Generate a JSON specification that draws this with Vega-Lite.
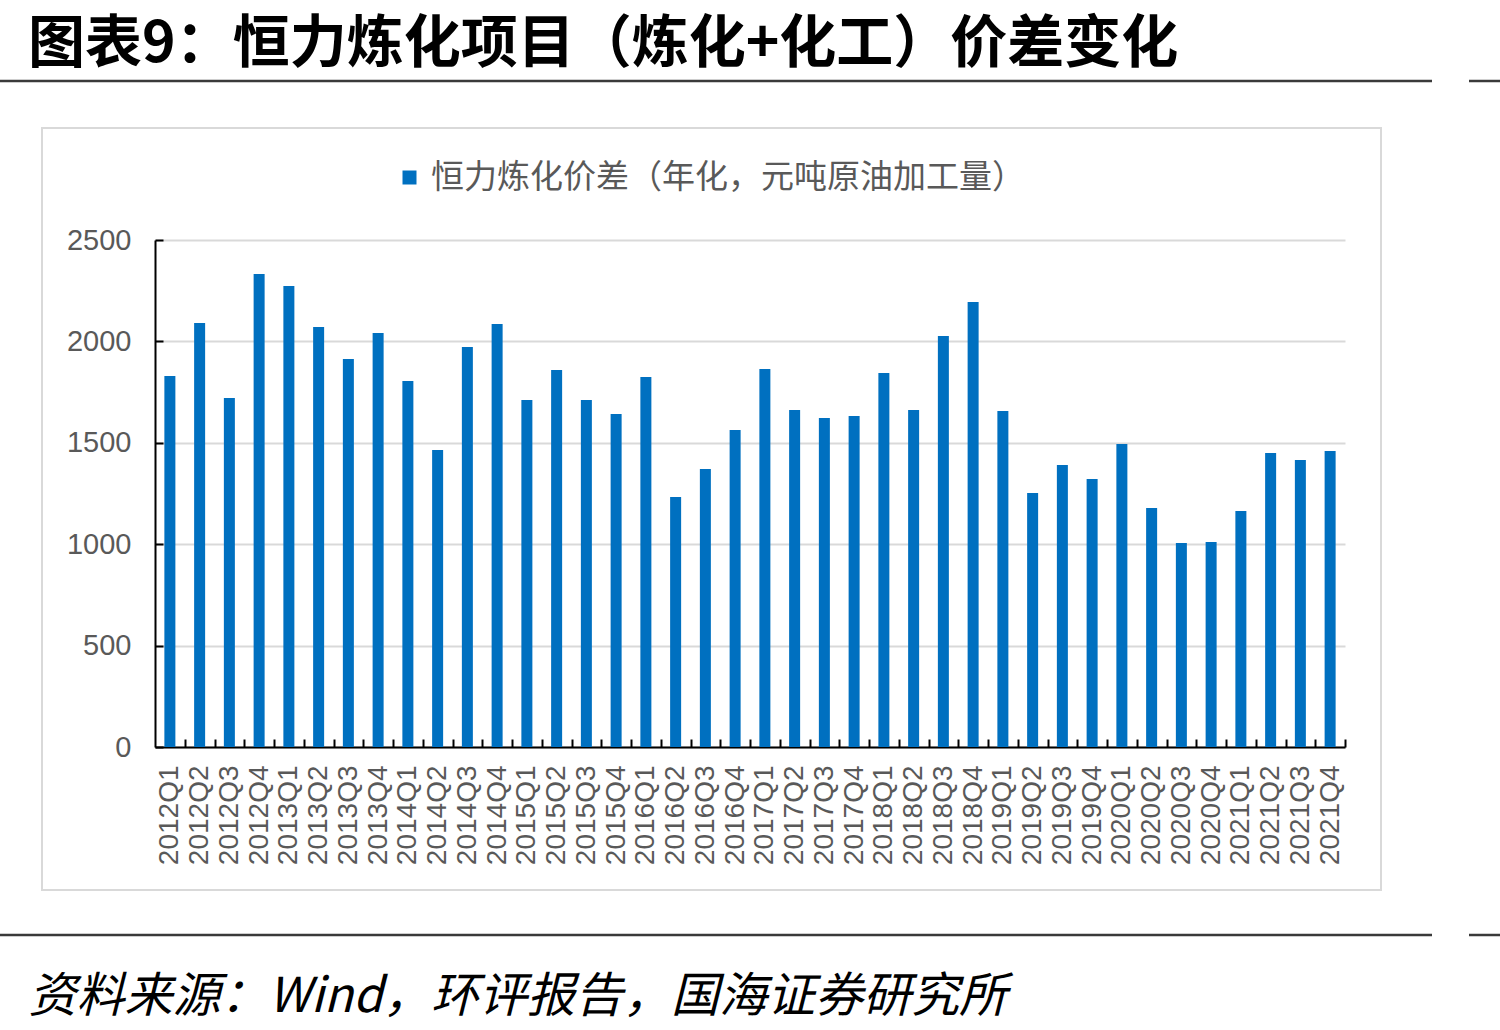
{
  "$schema": "https://vega.github.io/schema/vega-lite/v6.json",
  "width": 1190,
  "height": 507,
  "autosize": {"type": "none"},
  "padding": {"left": 155, "top": 240, "right": 155, "bottom": 283},
  "background": "white",
  "config": {"view": {"stroke": null}},
  "title": {
    "text": "图表9：恒力炼化项目（炼化+化工）价差变化",
    "font": "Noto Sans CJK SC",
    "fontSize": 57,
    "fontWeight": "bold",
    "color": "#000000",
    "anchor": "start",
    "frame": "group",
    "dx": -127,
    "dy": 4,
    "offset": 10
  },
  "data": {
    "values": [
      {"q": "2012Q1", "v": 1829}, {"q": "2012Q2", "v": 2091}, {"q": "2012Q3", "v": 1721}, {"q": "2012Q4", "v": 2332},
      {"q": "2013Q1", "v": 2273}, {"q": "2013Q2", "v": 2071}, {"q": "2013Q3", "v": 1913}, {"q": "2013Q4", "v": 2041},
      {"q": "2014Q1", "v": 1805}, {"q": "2014Q2", "v": 1464}, {"q": "2014Q3", "v": 1972}, {"q": "2014Q4", "v": 2086},
      {"q": "2015Q1", "v": 1711}, {"q": "2015Q2", "v": 1859}, {"q": "2015Q3", "v": 1711}, {"q": "2015Q4", "v": 1642},
      {"q": "2016Q1", "v": 1824}, {"q": "2016Q2", "v": 1233}, {"q": "2016Q3", "v": 1371}, {"q": "2016Q4", "v": 1563},
      {"q": "2017Q1", "v": 1864}, {"q": "2017Q2", "v": 1662}, {"q": "2017Q3", "v": 1622}, {"q": "2017Q4", "v": 1632},
      {"q": "2018Q1", "v": 1844}, {"q": "2018Q2", "v": 1662}, {"q": "2018Q3", "v": 2027}, {"q": "2018Q4", "v": 2194},
      {"q": "2019Q1", "v": 1657}, {"q": "2019Q2", "v": 1252}, {"q": "2019Q3", "v": 1391}, {"q": "2019Q4", "v": 1321},
      {"q": "2020Q1", "v": 1494}, {"q": "2020Q2", "v": 1178}, {"q": "2020Q3", "v": 1006}, {"q": "2020Q4", "v": 1011},
      {"q": "2021Q1", "v": 1164}, {"q": "2021Q2", "v": 1450}, {"q": "2021Q3", "v": 1415}, {"q": "2021Q4", "v": 1460}
    ]
  },
  "layer": [
    {
      "data": {"values": [{}]},
      "mark": {"type": "rect", "fill": "transparent", "stroke": "#d9d9d9", "strokeWidth": 2},
      "encoding": {
        "x": {"value": -113}, "x2": {"value": 1226},
        "y": {"value": -112}, "y2": {"value": 650}
      }
    },
    {
      "data": {"values": [{}]},
      "mark": {"type": "rule", "stroke": "#3a3a3a", "strokeWidth": 2.5},
      "encoding": {"x": {"value": -155}, "x2": {"value": 1277}, "y": {"value": -159}}
    },
    {
      "data": {"values": [{}]},
      "mark": {"type": "rule", "stroke": "#3a3a3a", "strokeWidth": 2.5},
      "encoding": {"x": {"value": 1314}, "x2": {"value": 1345}, "y": {"value": -159}}
    },
    {
      "data": {"values": [{}]},
      "mark": {"type": "rule", "stroke": "#3a3a3a", "strokeWidth": 2.5},
      "encoding": {"x": {"value": -155}, "x2": {"value": 1277}, "y": {"value": 695}}
    },
    {
      "data": {"values": [{}]},
      "mark": {"type": "rule", "stroke": "#3a3a3a", "strokeWidth": 2.5},
      "encoding": {"x": {"value": 1314}, "x2": {"value": 1345}, "y": {"value": 695}}
    },
    {
      "mark": {"type": "bar"},
      "encoding": {
        "x": {
          "field": "q", "type": "nominal", "sort": null,
          "scale": {"paddingInner": 0.63, "paddingOuter": 0.315},
          "axis": {
            "title": "资料来源：Wind，环评报告，国海证券研究所",
            "titleFont": "Noto Sans CJK SC",
            "titleFontSize": 48,
            "titleFontStyle": "italic",
            "titleFontWeight": "normal",
            "titleColor": "#000000",
            "titleAnchor": "start",
            "titleAlign": "left",
            "titleBaseline": "alphabetic",
            "titleX": -127,
            "titleY": 264,
            "labelAngle": -90,
            "labelFont": "Liberation Sans",
            "labelFontSize": 28,
            "labelColor": "#595959",
            "labelPadding": 26,
            "labelBaseline": "middle",
            "labelAlign": "right",
            "labelOffset": -14.875,
            "tickSize": -8,
            "tickOffset": 14.875,
            "tickColor": "#000000",
            "tickWidth": 2,
            "domainColor": "#000000",
            "domainWidth": 2,
            "grid": false
          }
        },
        "y": {
          "field": "v", "type": "quantitative",
          "scale": {"domain": [0, 2500], "nice": false},
          "axis": {
            "title": null,
            "format": "d",
            "values": [0, 500, 1000, 1500, 2000, 2500],
            "labelFont": "Liberation Sans",
            "labelFontSize": 29,
            "labelColor": "#595959",
            "labelPadding": 32,
            "tickSize": -8,
            "tickColor": "#000000",
            "tickWidth": 2,
            "domainColor": "#000000",
            "domainWidth": 2,
            "grid": true,
            "gridColor": "#d9d9d9",
            "gridWidth": 2
          }
        },
        "color": {
          "datum": "恒力炼化价差（年化，元吨原油加工量）",
          "scale": {"range": ["#0070C0"]},
          "legend": {
            "title": null,
            "orient": "none",
            "legendX": 238,
            "legendY": -79,
            "symbolType": "square",
            "symbolSize": 196,
            "symbolStrokeWidth": 0,
            "labelFont": "Noto Sans CJK SC",
            "labelFontSize": 33,
            "labelColor": "#595959",
            "labelOffset": 5,
            "labelLimit": 900
          }
        }
      }
    }
  ]
}
